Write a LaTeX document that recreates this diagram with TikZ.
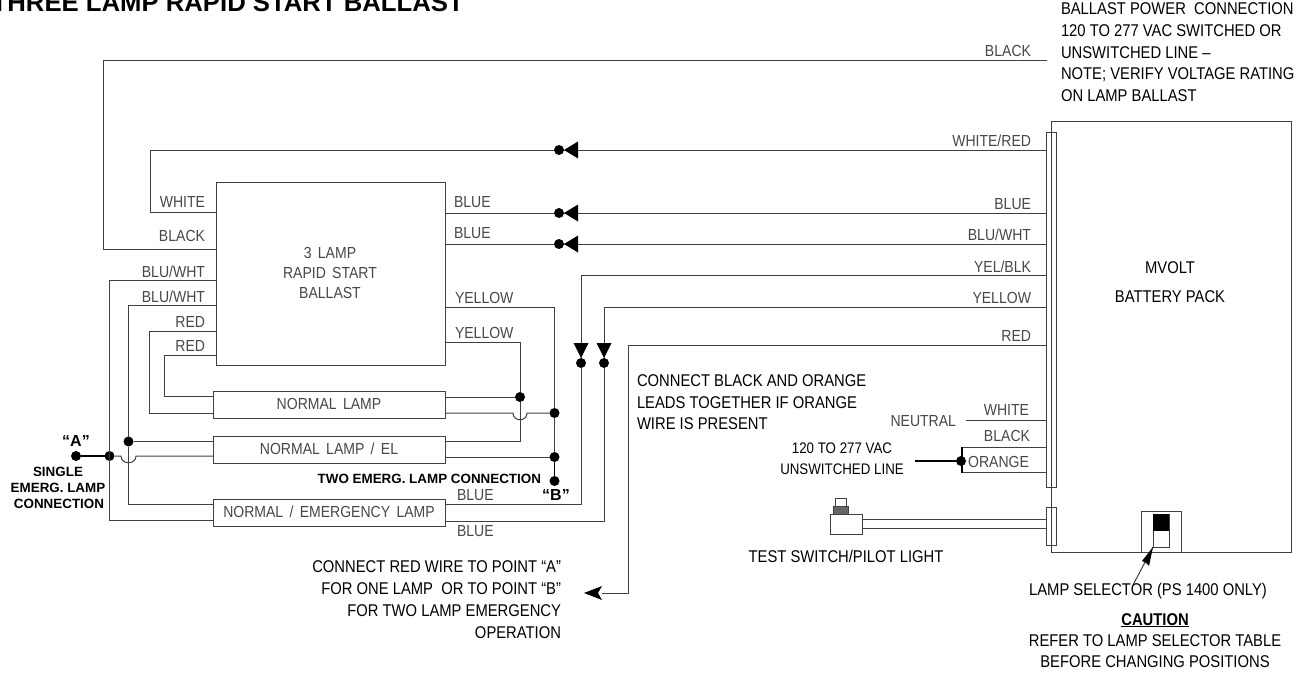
\documentclass[tikz,border=0pt]{standalone}
\usepackage{fontspec}
\setmainfont{Liberation Sans}
\newfontfamily\cadfont[FakeStretch=0.877]{Liberation Sans}
\newfontfamily\narrowfont[FakeStretch=0.87]{Liberation Sans}
\usetikzlibrary{calc}
\definecolor{wirecol}{gray}{0.25}
\newcommand\cadgap{\hspace{6.3pt}}
\tikzset{
  wire/.style={draw=wirecol,line width=1pt},
  thick wire/.style={draw=black,line width=1.6pt},
  box/.style={draw=wirecol,line width=1pt,fill=white,inner sep=0pt,outer sep=0pt},
  dot/.style={circle,fill=black,draw=none,minimum size=10pt,inner sep=0pt,outer sep=0pt},
  cad/.style={font=\cadfont\fontsize{16}{20}\selectfont,text=black!72,inner sep=0pt,outer sep=0pt},
  arial/.style={font=\narrowfont\fontsize{17}{21.5}\selectfont,inner sep=0pt,outer sep=0pt,text=black},
  bolda/.style={font=\bfseries\fontsize{13.4}{16}\selectfont,inner sep=0pt,outer sep=0pt,text=black},
  arrowfill/.style={fill=black,draw=none},
}
\begin{document}
\begin{tikzpicture}[x=1pt,y=-1pt]
\useasboundingbox (0,0) rectangle (1312,675);
\clip (0,0) rectangle (1312,675);

% boxes
\node[box,minimum width=229pt,minimum height=183pt] (ballast) at (330.5,273.5) {};
\node[box,minimum width=232pt,minimum height=27pt] (lampA) at (329,404.5) {};
\node[box,minimum width=232pt,minimum height=27pt] (lampB) at (329,449.5) {};
\node[box,minimum width=232pt,minimum height=27pt] (lampC) at (329,512.5) {};
\node[box,minimum width=240pt,minimum height=431pt] (pack) at (1171,336.5) {};
\node[box,minimum width=10pt,minimum height=355pt] (stripA) at (1051.5,309.5) {};
\node[box,minimum width=10pt,minimum height=38pt] (stripB) at (1051.5,526) {};
\draw[wire] (stripA.north) -- (stripA.south) -- (stripB.north) -- (stripB.south);

% junction dots
\node[dot] (dWR) at (559,150) {};
\node[dot] (dBL) at (559,213) {};
\node[dot] (dBW) at (559,244) {};
\node[dot] (dYB) at (581,363) {};
\node[dot] (dYE) at (604,363) {};
\node[dot] (dA) at (76,456) {};
\node[dot] (dAj) at (109.5,456) {};
\node[dot] (dBu) at (128.5,441.5) {};
\node[dot] (dYu) at (520,397) {};
\node[dot] (dYm) at (554.5,413) {};
\node[dot] (dYl) at (554.5,457) {};
\node[dot] (dB) at (554.5,481) {};
\node[dot] (dOr) at (961,461) {};
\coordinate (redEnd) at (602,593);

% wires: pack to ballast
\draw[wire] (stripA.west |- 0,60) -- (103,60) |- (ballast.west |- 0,249);
\draw[wire] (stripA.west |- 0,150) -- (dWR);
\draw[wire] (dWR) -| (150,212) -- (ballast.west |- 0,212);
\draw[wire] (stripA.west |- 0,213) -- (dBL) -- (ballast.east |- 0,213);
\draw[wire] (stripA.west |- 0,244) -- (dBW) -- (ballast.east |- 0,244);
\draw[wire] (stripA.west |- 0,275) -| (dYB);
\draw[wire] (stripA.west |- 0,307) -| (dYE);
\draw[wire] (stripA.west |- 0,345) -| (628,593) -- (redEnd);
\draw[wire] (dYB) |- (lampC.east |- 0,504);
\draw[wire] (dYE) |- (lampC.east |- 0,521);

% arrow heads
\fill[arrowfill] (dWR) ++(5,0) -- ++(14,-8.5) -- ++(0,17) -- cycle;
\fill[arrowfill] (dBL) ++(5,0) -- ++(14,-8.5) -- ++(0,17) -- cycle;
\fill[arrowfill] (dBW) ++(5,0) -- ++(14,-8.5) -- ++(0,17) -- cycle;
\fill[arrowfill] (dYB) ++(0,-5) -- ++(-7.5,-15) -- ++(15,0) -- cycle;
\fill[arrowfill] (dYE) ++(0,-5) -- ++(-7.5,-15) -- ++(15,0) -- cycle;
\fill[arrowfill] (redEnd) ++(-18,0) -- ++(18,-7) -- ++(-4,7) -- ++(4,7) -- cycle;

% ballast to lamps, left side
\draw[wire] (ballast.west |- 0,280) -| (109.5,520) -- (lampC.west |- 0,520);
\draw[wire] (ballast.west |- 0,305) -| (dBu);
\draw[wire] (dBu) -- (128.5,504) -- (lampC.west |- 0,504);
\draw[wire] (dBu) -- (lampB.west |- dBu);
\draw[wire] (ballast.west |- 0,331) -| (149,413) -- (lampA.west |- 0,413);
\draw[wire] (ballast.west |- 0,355) -| (164,396) -- (lampA.west |- 0,396);
\draw[thick wire] (dA) -- (dAj);
\draw[wire] (dAj) -- (121,456) .. controls (121,465) and (136,465) .. (136,456) -- (lampB.west |- 0,456);

% ballast to lamps, right side
\draw[wire] (ballast.east |- 0,307) -| (dYm);
\draw[wire] (dYm) -- (dYl);
\draw[thick wire] (dYl) -- (dB);
\draw[wire] (ballast.east |- 0,342) -| (dYu);
\draw[wire] (dYu) -- (520,441) -- (lampB.east |- 0,441);
\draw[wire] (lampA.east |- 0,397) -- (dYu);
\draw[wire] (lampA.east |- 0,413) -- (513,413) .. controls (513,422) and (527,422) .. (527,413) -- (dYm);
\draw[wire] (lampB.east |- 0,457) -- (dYl);

% neutral, black, orange
\draw[wire] (966,420) -- (stripA.west |- 0,420);
\draw[wire] (stripA.west |- 0,447) -- (962,447);
\draw[wire] (stripA.west |- 0,472) -- (962,472);
\draw[thick wire] (962,446.5) -- (962,472.5);
\draw[thick wire] (915,461) -- (dOr);

% test switch
\node[box,minimum width=32pt,minimum height=20pt] (sw) at (846,524) {};
\node[box,fill=black!60,minimum width=15pt,minimum height=8pt] (swCollar) at (841,510) {};
\node[box,minimum width=11pt,minimum height=8pt] (swCap) at (841,502) {};
\draw[wire] (sw.east |- 0,519) -- (stripB.west |- 0,519);
\draw[wire] (sw.east |- 0,528) -- (stripB.west |- 0,528);

% lamp selector
\node[box,minimum width=40pt,minimum height=41pt,fill=none] (selOuter) at (1161,531.5) {};
\node[box,minimum width=16pt,minimum height=33pt] (selInner) at (1161,530.5) {};
\node[fill=black,inner sep=0pt,minimum width=16pt,minimum height=17pt] (selDark) at (1161,522.5) {};
\coordinate (selTail) at (1133,585);
\draw[wire] (selTail) -- (selInner.south west);
\fill[arrowfill] (selInner.south west) -- (1142,561) -- (1145.5,562.5) -- (1149,566) -- cycle;

% text
\node[font=\bfseries\fontsize{25.7}{28}\selectfont,anchor=base east,inner sep=0pt] (title) at (464,11) {THREE LAMP RAPID START BALLAST};
\node[arial,anchor=north west,align=left,font=\narrowfont\fontsize{17}{21.7}\selectfont] (noteP) at (1061,3) {BALLAST POWER\ \ CONNECTION\\120 TO 277 VAC SWITCHED OR\\UNSWITCHED LINE –\\NOTE; VERIFY VOLTAGE RATING\\ON LAMP BALLAST};
\node[arial,anchor=base] (packT) at (1170,273) {MVOLT};
\node[arial,anchor=base] (packU) at (1170,302) {BATTERY PACK};
\node[cad,align=center,anchor=center] (ballastT) at (330,273) {3\cadgap LAMP\\RAPID\cadgap START\\BALLAST};
\node[cad,anchor=base] (lampAT) at (329,409.5) {NORMAL\cadgap LAMP};
\node[cad,anchor=base] (lampBT) at (329,454.5) {NORMAL\cadgap LAMP\cadgap /\cadgap EL};
\node[cad,anchor=base] (lampCT) at (329,517.5) {NORMAL\cadgap /\cadgap EMERGENCY\cadgap LAMP};

\node[cad,anchor=base east] (l1) at (205,207) {WHITE};
\node[cad,anchor=base east] (l2) at (205,241) {BLACK};
\node[cad,anchor=base east] (l3) at (205,277) {BLU/WHT};
\node[cad,anchor=base east] (l4) at (205,302) {BLU/WHT};
\node[cad,anchor=base east] (l5) at (205,327) {RED};
\node[cad,anchor=base east] (l6) at (205,351) {RED};
\node[cad,anchor=base west] (l7) at (454,207) {BLUE};
\node[cad,anchor=base west] (l8) at (454,238) {BLUE};
\node[cad,anchor=base west] (l9) at (455,303) {YELLOW};
\node[cad,anchor=base west] (l10) at (455,338) {YELLOW};
\node[cad,anchor=base west] (l11) at (457,500) {BLUE};
\node[cad,anchor=base west] (l12) at (457,536) {BLUE};
\node[cad,anchor=base east] (r1) at (1031,56) {BLACK};
\node[cad,anchor=base east] (r2) at (1031,146) {WHITE/RED};
\node[cad,anchor=base east] (r3) at (1031,209) {BLUE};
\node[cad,anchor=base east] (r4) at (1031,240) {BLU/WHT};
\node[cad,anchor=base east] (r5) at (1031,272) {YEL/BLK};
\node[cad,anchor=base east] (r6) at (1031,303) {YELLOW};
\node[cad,anchor=base east] (r7) at (1031,341) {RED};
\node[cad,anchor=base east] (r8) at (1029,415) {WHITE};
\node[cad,anchor=base east] (r9) at (1030,441) {BLACK};
\node[cad,anchor=base east] (r10) at (1029,467) {ORANGE};
\node[cad,anchor=base east] (r11) at (956,426) {NEUTRAL};

\node[bolda,font=\bfseries\fontsize{16}{18}\selectfont,anchor=base] (tA) at (76,446) {“A”};
\node[bolda,font=\bfseries\fontsize{16}{18}\selectfont,anchor=base] (tB) at (556,500) {“B”};
\node[bolda,align=center,anchor=base] (tSingle) at (58,476) {SINGLE};
\node[bolda,align=center,anchor=base] (tEmerg) at (58,492) {EMERG. LAMP};
\node[bolda,align=center,anchor=base] (tConnection) at (59,508) {CONNECTION};
\node[bolda,anchor=base east] (tTwo) at (541,483) {TWO EMERG. LAMP CONNECTION};

\node[arial,anchor=north west,align=left] (tConn) at (637,375) {CONNECT BLACK AND ORANGE\\LEADS TOGETHER IF ORANGE\\WIRE IS PRESENT};
\node[arial,anchor=north east,align=right,font=\narrowfont\fontsize{17}{22}\selectfont] (tRed) at (561,561) {CONNECT RED WIRE TO POINT “A”\\FOR ONE LAMP\ \ OR TO POINT “B”\\FOR TWO LAMP EMERGENCY\\OPERATION};
\node[arial,anchor=north,align=center,font=\narrowfont\fontsize{15.3}{21}\selectfont] (tLine) at (842,443) {120 TO 277 VAC\\UNSWITCHED LINE};
\node[arial,anchor=base] (tTest) at (846,562) {TEST SWITCH/PILOT LIGHT};
\node[arial,anchor=base] (tSel) at (1148,595) {LAMP SELECTOR (PS 1400 ONLY)};
\node[arial,anchor=base] (tCaution) at (1155,625) {\bfseries\underline{CAUTION}};
\node[arial,anchor=north,align=center,font=\narrowfont\fontsize{17}{21}\selectfont] (tRefer) at (1155,635) {REFER TO LAMP SELECTOR TABLE\\BEFORE CHANGING POSITIONS};
\end{tikzpicture}
\end{document}
